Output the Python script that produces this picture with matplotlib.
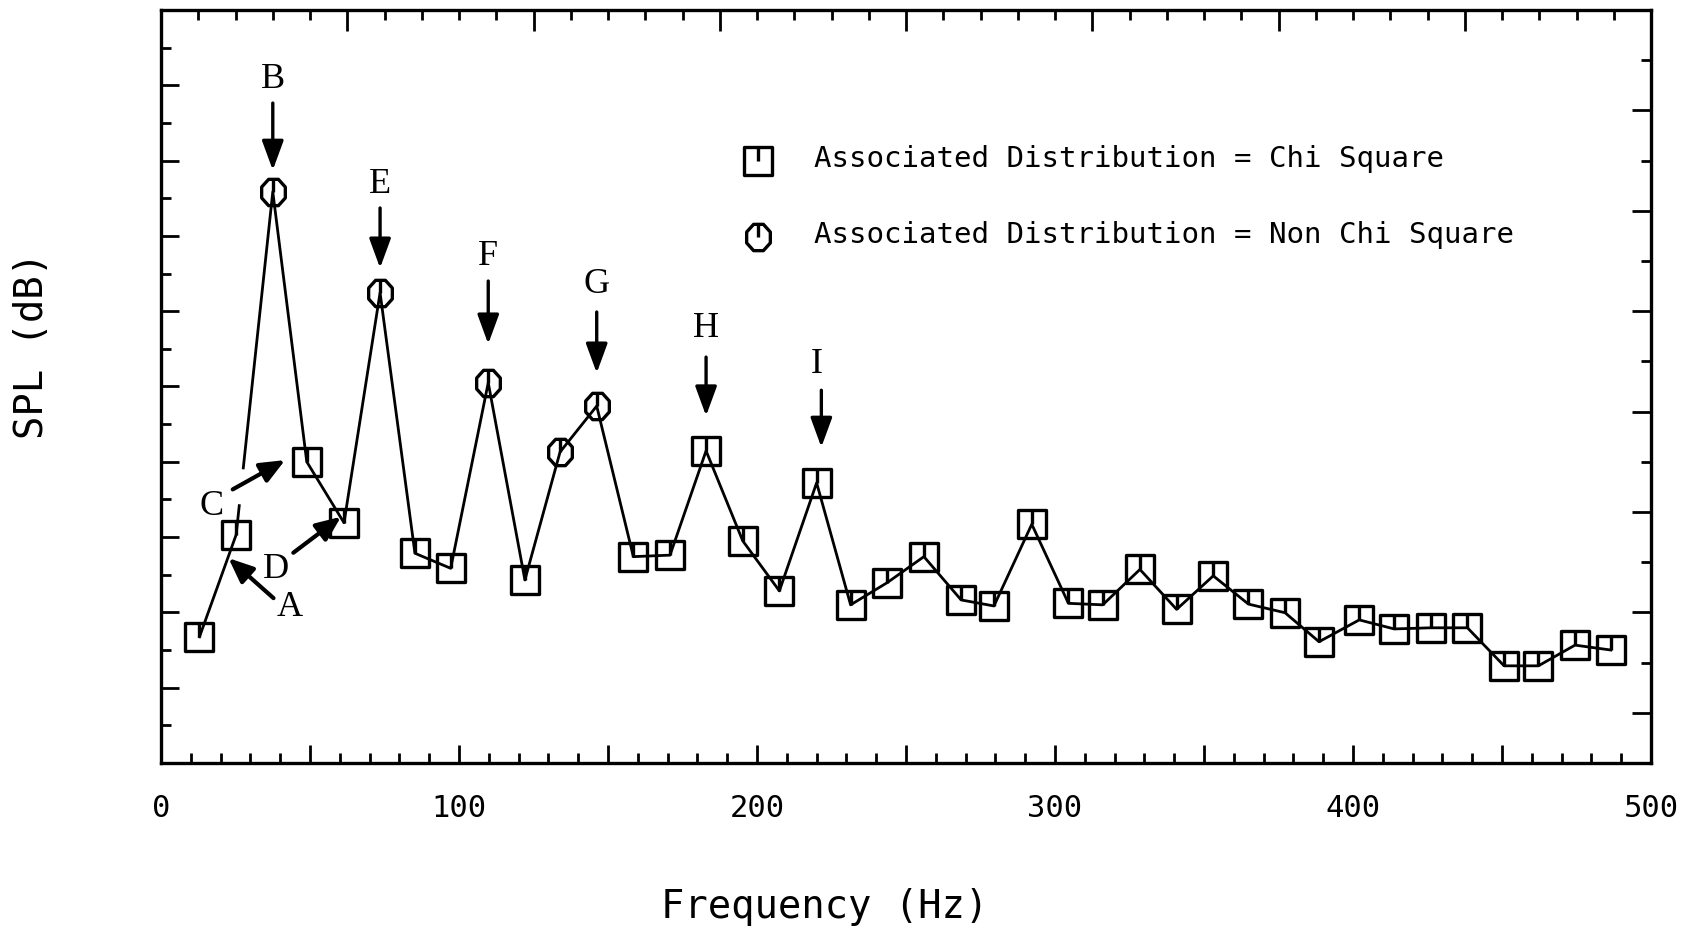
import numpy as np
import matplotlib
matplotlib.use("Agg")
from matplotlib import pyplot as plt
from matplotlib.path import Path
from matplotlib.transforms import offset_copy

# harmonic frequencies (Hz) and SPL (tick units, no scale printed on the plot)
freq = [12.9, 25.2, 37.5, 48.9, 61.4, 73.5, 85.2, 97.2, 109.8, 122.1,
        133.9, 146.2, 158.5, 170.8, 182.9, 195.2, 207.5, 220.0, 231.4, 243.7,
        256.0, 268.5, 279.5, 292.2, 304.5, 316.0, 328.5, 340.8, 353.1, 364.9,
        377.2, 388.6, 402.1, 413.8, 426.1, 438.4, 450.7, 462.2, 474.5, 486.5]
spl = [3.35, 6.06, 15.17, 8.00, 6.38, 12.49, 5.57, 5.17, 10.10, 4.86,
       8.26, 9.48, 5.48, 5.52, 8.29, 5.90, 4.57, 7.44, 4.20, 4.79,
       5.48, 4.33, 4.17, 6.34, 4.24, 4.20, 5.14, 4.08, 4.97, 4.22,
       3.99, 3.22, 3.80, 3.56, 3.59, 3.59, 2.58, 2.58, 3.13, 3.00]
# C = chi square, N = non chi square
dist = ['C', 'C', 'N', 'C', 'C', 'N', 'C', 'C', 'N', 'C',
        'N', 'N', 'C', 'C', 'C', 'C', 'C', 'C', 'C', 'C',
        'C', 'C', 'C', 'C', 'C', 'C', 'C', 'C', 'C', 'C',
        'C', 'C', 'C', 'C', 'C', 'C', 'C', 'C', 'C', 'C']
labels_legend = ['Associated Distribution = Chi Square',
                 'Associated Distribution = Non Chi Square']

fx = np.array(freq)
sy = np.array(spl)
chi = np.array([d == 'C' for d in dist])

# markers: square / octagon with a small stroke from the top to the centre
sq = Path([(-1, -1), (1, -1), (1, 1), (-1, 1), (-1, -1), (0, 1), (0, 0)],
          [Path.MOVETO, Path.LINETO, Path.LINETO, Path.LINETO, Path.CLOSEPOLY,
           Path.MOVETO, Path.LINETO])
ang = np.deg2rad(22.5 + 45 * np.arange(8))
octv = [(0.9 * np.cos(a), np.sin(a)) for a in ang]
oc = Path(octv + [octv[0], (0, 1), (0, 0)],
          [Path.MOVETO] + [Path.LINETO] * 7 + [Path.CLOSEPOLY, Path.MOVETO, Path.LINETO])

mono = 'DejaVu Sans Mono'
fig = plt.figure(figsize=(16.97, 9.30), dpi=100)
ax = fig.add_axes([0.0949, 0.1796, 0.8780, 0.8097])

# line, with the small break left for the arrow of label C
t0, t1 = 0.085, 0.195
gx0 = fx[1] + t0 * (fx[2] - fx[1]); gy0 = sy[1] + t0 * (sy[2] - sy[1])
gx1 = fx[1] + t1 * (fx[2] - fx[1]); gy1 = sy[1] + t1 * (sy[2] - sy[1])
lx = np.concatenate([fx[:2], [gx0, np.nan, gx1], fx[2:]])
ly = np.concatenate([sy[:2], [gy0, np.nan, gy1], sy[2:]])
ax.plot(lx, ly, color='k', lw=2.0, zorder=2)
ax.plot(fx[chi], sy[chi], ls='none', marker=sq, ms=19.5, mfc='none', mec='k', mew=2.4, zorder=3)
ax.plot(fx[~chi], sy[~chi], ls='none', marker=oc, ms=20.5, mfc='none', mec='k', mew=2.4, zorder=3)

ax.set_xlim(0, 500)
ax.set_ylim(0, 20)
ax.set_xticks(np.arange(0, 501, 50))
ax.set_xticklabels(['0', '', '100', '', '200', '', '300', '', '400', '', '500'])
ax.set_xticks(np.arange(0, 501, 10), minor=True)
ax.set_yticks(np.arange(0, 21, 2))
ax.set_yticks(np.arange(1, 20, 2), minor=True)
ax.set_yticklabels([])
ax.tick_params(which='major', direction='in', length=13, width=2, pad=22, labelsize=22)
ax.tick_params(which='minor', direction='in', length=7, width=2)
for lab in ax.get_xticklabels():
    lab.set_family(mono)
for s in ax.spines.values():
    s.set_linewidth(2.4)

top = ax.secondary_xaxis('top')
top.set_xticks(np.arange(0, 501, 62.5))
top.set_xticks(np.arange(0, 501, 12.5), minor=True)
top.set_xticklabels([])
top.tick_params(which='major', direction='in', length=15, width=2)
top.tick_params(which='minor', direction='in', length=7, width=2)

right = ax.secondary_yaxis('right', functions=(lambda v: v * 0.75, lambda v: v / 0.75))
right.set_yticks(np.arange(1, 16, 2))
right.set_yticks(np.arange(0, 16, 2), minor=True)
right.set_yticklabels([])
right.tick_params(which='major', direction='in', length=14, width=2)
right.tick_params(which='minor', direction='in', length=7, width=2)

ax.set_xlabel('Frequency (Hz)', family=mono, fontsize=28)
ax.xaxis.set_label_coords(0.4456, -0.191)
ax.xaxis.label.set_va('center')
ax.set_ylabel('SPL (dB)', family=mono, fontsize=28)
ax.yaxis.set_label_coords(-0.0866, 0.554)
ax.yaxis.label.set_va('center')

# legend drawn by hand at the reference spot
ax.plot([0.4004], [0.7995], transform=ax.transAxes, marker=sq, ms=19.5, mfc='none', mec='k', mew=2.4, clip_on=False)
ax.plot([0.4004], [0.6985], transform=ax.transAxes, marker=oc, ms=20.5, mfc='none', mec='k', mew=2.4, clip_on=False)
ax.text(0.4383, 0.8015, labels_legend[0], transform=ax.transAxes, family=mono, fontsize=21, va='center')
ax.text(0.4383, 0.7005, labels_legend[1], transform=ax.transAxes, family=mono, fontsize=21, va='center')

# peak labels: index, letter, tip offset, tail offset, letter offset (points)
serif = 'Liberation Serif'
down = [(2, 'B', (0, 15.6), (0, 63.9), (0, 81)),
        (5, 'E', (0, 17.8), (0, 61), (0, 78)),
        (8, 'F', (0, 27.9), (0, 73.2), (0, 90.9)),
        (11, 'G', (0, 23.8), (0, 67.7), (0, 87.4)),
        (14, 'H', (0, 25.2), (0, 67.5), (0, 88.3)),
        (17, 'I', (3.4, 25.7), (3.4, 66.7), (0, 85))]
side = [(3, 'C', (-15.6, 1.2), (-53.3, -19.9), (-68.2, -32.3)),
        (4, 'D', (-2.2, 4.3), (-36.5, -21.6), (-49, -34)),
        (1, 'A', (-5.5, -16.8), (26.9, -45.6), (38.5, -52.2))]

def mark(i, letter, tip, tail, lab, style, lw):
    p = (fx[i], sy[i])
    ax.annotate('', xy=p, xycoords=offset_copy(ax.transData, fig=fig, x=tip[0], y=tip[1], units='points'),
                xytext=p, textcoords=offset_copy(ax.transData, fig=fig, x=tail[0], y=tail[1], units='points'),
                arrowprops=dict(arrowstyle=style, color='k', lw=lw, shrinkA=0, shrinkB=0, mutation_scale=20))
    ax.annotate(letter, xy=p, xytext=lab, textcoords='offset points', ha='center', va='center',
                family=serif, fontsize=26)

for i, letter, tip, tail, lab in down:
    mark(i, letter, tip, tail, lab, '-|>,head_length=0.9,head_width=0.33', 2.4)
for i, letter, tip, tail, lab in side:
    mark(i, letter, tip, tail, lab, '-|>,head_length=0.75,head_width=0.32', 3.0)

fig.savefig('out.png', dpi=100)
